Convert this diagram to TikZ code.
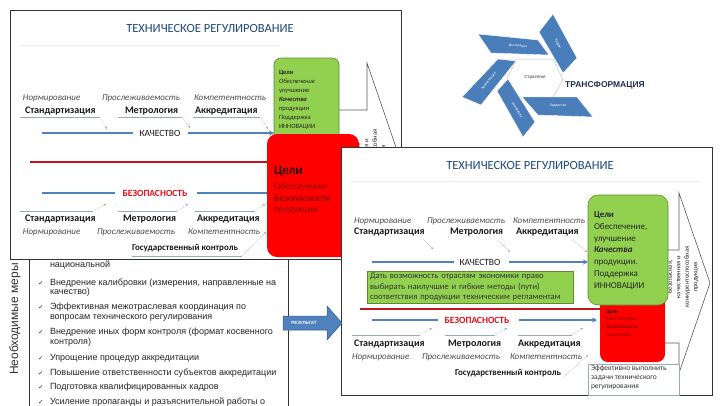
\documentclass[tikz,border=0pt]{standalone}
\usepackage{fontspec}
\setmainfont{Carlito}
\newfontfamily\arialf{Liberation Sans}
\newfontfamily\djvf{DejaVu Sans}
\usetikzlibrary{arrows.meta}
\definecolor{titleblue}{HTML}{1F497D}
\definecolor{lineblue}{HTML}{4F81BD}
\definecolor{linered}{HTML}{C0141E}
\definecolor{boxgreen}{HTML}{92D050}
\definecolor{greenborder}{HTML}{5E8A2E}
\definecolor{boxred}{HTML}{FF0000}
\definecolor{darkredtxt}{HTML}{8B0000}
\definecolor{shapeblue}{HTML}{4A7EBB}
\definecolor{arrowborder}{HTML}{385D8A}
\definecolor{transf}{HTML}{1F3050}
\definecolor{thingray}{HTML}{9AA8BA}
\definecolor{redword}{HTML}{E0101B}
\begin{document}
\begin{tikzpicture}[x=1pt,y=-1pt,every node/.style={inner sep=0pt,outer sep=0pt}]
\tikzset{
 ttl/.style={font=\fontsize{12.5}{14}\selectfont, text=titleblue},
 itx/.style={anchor=west, font=\fontsize{9}{10}\selectfont\itshape, text=black!70},
 btx/.style={anchor=west, font=\fontsize{10}{12}\selectfont\bfseries, text=black!90},
 qtx/.style={font=\fontsize{9.5}{11}\selectfont, text=black!90},
 stx/.style={font=\fontsize{9.5}{11}\selectfont\bfseries, text=redword},
 gtx/.style={anchor=west, font=\fontsize{9}{11}\selectfont\bfseries, text=black!90},
 bline/.style={draw=lineblue, line width=1.8pt},
 barrow/.style={draw=lineblue, line width=1.8pt, -{Stealth[length=5pt,width=5pt]}},
 rline/.style={draw=linered, line width=2.5pt},
 uline/.style={draw=thingray, line width=0.5pt},
 darr/.style={draw=gray!75, densely dotted, line width=0.5pt, -{Stealth[length=2.5pt,width=2pt]}},
 frame/.style={draw=black!80, line width=0.7pt},
 tri/.style={draw=black!65, line width=0.6pt},
 gbox/.style={fill=boxgreen, draw=greenborder, line width=0.6pt},
 listtx/.style={anchor=west, font=\arialf\fontsize{9}{10}\selectfont, text=black!85},
 chk/.style={anchor=west, font=\djvf\fontsize{6.5}{8}\selectfont, text=black!80},
 pshape/.style={fill=shapeblue, draw=white, line width=0.4pt},
 ptx/.style={font=\arialf\fontsize{3.4}{4}\selectfont, text=white},
 rottx/.style={rotate=90, align=center, font=\fontsize{6.5}{8.5}\selectfont, text=black!85}
}
\useasboundingbox (0,0) rectangle (720,405);
\fill[white] (0,0) rectangle (720,405);

% ================= left frame and list =================
\coordinate (LF1) at (10,10); \coordinate (LF2) at (401,259);
\draw[frame] (LF1) rectangle (LF2);
\coordinate (LB1) at (29,259); \coordinate (LB2) at (29,410);
\coordinate (LB3) at (288,259); \coordinate (LB4) at (288,410);
\draw[frame] (LB1) -- (LB2); \draw[frame] (LB3) -- (LB4);

\node[rotate=90, font=\arialf\fontsize{12}{14}\selectfont, text=black!80] (nm) at (15,319) {Необходимые меры};
\node[listtx] (m0) at (50,265) {национальной};
\node[chk] (c1) at (38,283) {✓}; \node[listtx] (m1) at (50,283) {Внедрение калибровки (измерения, направленные на};
\node[listtx] (m1b) at (50,292) {качество)};
\node[chk] (c2) at (38,307) {✓}; \node[listtx] (m2) at (50,307) {Эффективная межотраслевая координация по};
\node[listtx] (m2b) at (50,318) {вопросам технического регулирования};
\node[chk] (c3) at (38,332) {✓}; \node[listtx] (m3) at (50,332) {Внедрение иных форм контроля (формат косвенного};
\node[listtx] (m3b) at (50,342) {контроля)};
\node[chk] (c4) at (38,358) {✓}; \node[listtx] (m4) at (50,358) {Упрощение процедур аккредитации};
\node[chk] (c5) at (38,373) {✓}; \node[listtx] (m5) at (50,373) {Повышение ответственности субъектов аккредитации};
\node[chk] (c6) at (38,387) {✓}; \node[listtx] (m6) at (50,387) {Подготовка квалифицированных кадров};
\node[chk] (c7) at (38,402) {✓}; \node[listtx] (m7) at (50,402) {Усиление пропаганды и разъяснительной работы о};

% ================= left diagram =================
\node[ttl] (Ltitle) at (210,28) {ТЕХНИЧЕСКОЕ РЕГУЛИРОВАНИЕ};
\coordinate (Lh1) at (20,45); \coordinate (Lh2) at (280,45);
\draw[gray!15, line width=0.6pt] (Lh1) -- (Lh2);

\node[itx] (Li1) at (23,98) {Нормирование};
\node[itx] (Li2) at (102,98) {Прослеживаемость};
\node[itx] (Li3) at (194,98) {Компетентность};
\node[btx] (Lb1) at (25,111) {Стандартизация};
\node[btx] (Lb2) at (125,111) {Метрология};
\node[btx] (Lb3) at (195,111) {Аккредитация};

\coordinate (Lu1a) at (20,117); \coordinate (Lu1b) at (100,117); \coordinate (Lu1c) at (107,129);
\coordinate (Lu2a) at (118,117); \coordinate (Lu2b) at (182,117); \coordinate (Lu2c) at (190,128);
\coordinate (Lu3a) at (193,117); \coordinate (Lu3b) at (260,117); \coordinate (Lu3c) at (268,129);
\draw[uline] (Lu1a) -- (Lu1b); \draw[darr] (Lu1b) -- (Lu1c);
\draw[uline] (Lu2a) -- (Lu2b); \draw[darr] (Lu2b) -- (Lu2c);
\draw[uline] (Lu3a) -- (Lu3b); \draw[darr] (Lu3b) -- (Lu3c);

% left green and red boxes
\node[gbox, rounded corners=7pt, minimum width=65, minimum height=95, anchor=north west] (Lg) at (274,58) {};
\node[anchor=north west, align=left, font=\fontsize{6.5}{9}\selectfont, text=black!85] (Lgt) at (279,70.5)
 {\textbf{Цели}\\\textit{Обеспечение}\\улучшение\\\textbf{\textit{Качества}}\\продукции\\Поддержка\\ИННОВАЦИИ};

\node[qtx] (Lq) at (160,133) {КАЧЕСТВО};
\coordinate (Lq0) at (42,133);
\draw[bline] (Lq0) -- ([xshift=-7pt]Lq.west);
\draw[barrow] ([xshift=8pt]Lq.east) -- (Lg.west |- Lq);

\coordinate (LT1) at (367,110); \coordinate (LT2) at (367,63); \coordinate (LT3) at (399,156);
\draw[tri] (Lg.east |- LT1) -- (LT1) -- (LT2) -- (LT3);
\node[rottx] (Lrot) at (371,160) {Безопасная,\\качественная и\\конкурентоспособная\\продукция};

\node[fill=boxred, rounded corners=10pt, minimum width=92, minimum height=123, anchor=north west] (Lred) at (267,134) {};
\node[anchor=west, font=\fontsize{13}{15}\selectfont\bfseries, text=black!80!red] (Lrt1) at (274,171) {Цели};
\node[anchor=west, font=\fontsize{9.5}{11}\selectfont, text=darkredtxt] (Lrt2) at (274,186) {Обеспечение};
\node[anchor=west, font=\fontsize{9.5}{11}\selectfont\bfseries, text=darkredtxt] (Lrt3) at (274,198) {Безопасности};
\node[anchor=west, font=\fontsize{9.5}{11}\selectfont, text=darkredtxt] (Lrt4) at (274,211) {продукции};

\coordinate (Lr0) at (30,162);
\draw[rline] (Lr0) -- (Lred.west |- Lr0);

\node[stx] (Ls) at (155,193) {БЕЗОПАСНОСТЬ};
\coordinate (Ls0) at (42,193);
\draw[bline] (Ls0) -- ([xshift=-8pt]Ls.west);
\draw[bline] ([xshift=10pt]Ls.east) -- (Lred.west |- Ls);

\coordinate (Ld1a) at (20,211); \coordinate (Ld1b) at (93,211); \coordinate (Ld1c) at (106,204);
\coordinate (Ld2a) at (118,211); \coordinate (Ld2b) at (177,211); \coordinate (Ld2c) at (188,204);
\coordinate (Ld3a) at (195,211); \coordinate (Ld3b) at (255,211); \coordinate (Ld3c) at (265,204);
\draw[uline] (Ld1a) -- (Ld1b); \draw[darr] (Ld1b) -- (Ld1c);
\draw[uline] (Ld2a) -- (Ld2b); \draw[darr] (Ld2b) -- (Ld2c);
\draw[uline] (Ld3a) -- (Ld3b); \draw[darr] (Ld3b) -- (Ld3c);

\node[btx] (Lb4) at (25,219) {Стандартизация};
\node[btx] (Lb5) at (123,219) {Метрология};
\node[btx] (Lb6) at (197,219) {Аккредитация};
\node[itx] (Li4) at (23,232) {Нормирование};
\node[itx] (Li5) at (97,232) {Прослеживаемость};
\node[itx] (Li6) at (188,232) {Компетентность};

\node[gtx] (Lgc) at (132,248) {Государственный контроль};
\coordinate (Lgc1) at (132,256); \coordinate (Lgc2) at (242,256); \coordinate (Lgc3) at (266,232);
\draw[uline] (Lgc1) -- (Lgc2); \draw[darr] (Lgc2) -- (Lgc3);

% ================= right diagram =================
\node[draw=black!80, line width=0.7pt, fill=white, minimum width=371, minimum height=248, anchor=north west] (R) at (341,147) {};

\node[ttl] (Rtitle) at (530,165) {ТЕХНИЧЕСКОЕ РЕГУЛИРОВАНИЕ};
\coordinate (Rh1) at (350,181); \coordinate (Rh2) at (700,181);
\draw[gray!15, line width=0.6pt] (Rh1) -- (Rh2);

\node[itx] (Ri1) at (354,221) {Нормирование};
\node[itx] (Ri2) at (427,221) {Прослеживаемость};
\node[itx] (Ri3) at (513,221) {Компетентность};
\node[btx] (Rb1) at (354,232) {Стандартизация};
\node[btx] (Rb2) at (450,232) {Метрология};
\node[btx] (Rb3) at (516,232) {Аккредитация};
\coordinate (Ru1b) at (423,239); \coordinate (Ru1c) at (433,249);
\coordinate (Ru2b) at (498,240); \coordinate (Ru2c) at (510,252);
\coordinate (Ru3b) at (572,240); \coordinate (Ru3c) at (587,252);
\draw[darr] (Ru1b) -- (Ru1c); \draw[darr] (Ru2b) -- (Ru2c); \draw[darr] (Ru3b) -- (Ru3c);

% rotated text and triangle
\node[rottx] (Rrot) at (683,277) {Безопасная,\\качественная и\\конкурентоспособная\\продукция};

\node[fill=boxred, rounded corners=8pt, minimum width=65, minimum height=72, anchor=north west] (Rred) at (600,290) {};
\node[anchor=north west, align=left, font=\fontsize{5.5}{7.7}\selectfont, text=darkredtxt] (Rrt) at (606,309.5)
 {\textcolor{black!80!red}{\textbf{Цели}}\\Обеспечение\\\textbf{Безопасность}\\продукции};

\node[gbox, rounded corners=10pt, minimum width=80, minimum height=110, anchor=north west] (Rg) at (588,195) {};
\node[anchor=north west, align=left, font=\fontsize{9}{11.7}\selectfont, text=black!85] (Rgt) at (594,212)
 {\textbf{Цели}\\Обеспечение,\\улучшение\\\textbf{\textit{Качества}}\\продукции.\\Поддержка\\ИННОВАЦИИ};

\coordinate (RT1) at (679,250); \coordinate (RT2) at (679,193); \coordinate (RT3) at (710,283);
\coordinate (RT4) at (679,373); \coordinate (RT5) at (679,343);
\draw[tri] (Rg.east |- RT1) -- (RT1) -- (RT2) -- (RT3) -- (RT4) -- (RT5) -- (Rred.east |- RT5);

\node[qtx] (Rq) at (480,262) {КАЧЕСТВО};
\coordinate (Rq0) at (372,262);
\draw[bline] (Rq0) -- ([xshift=-6pt]Rq.west);
\draw[barrow] ([xshift=9pt]Rq.east) -- (Rg.west |- Rq);

\node[gbox, anchor=north west, minimum width=206, minimum height=32, text width=200, align=left, inner xsep=3pt, inner ysep=1.5pt,
 font=\fontsize{8.6}{10.5}\selectfont, text=black!80] (Rgtx) at (367,271)
 {Дать возможность отраслям экономики право\\выбирать наилучшие и гибкие методы (пути)\\соответствия продукции техническим регламентам};

\coordinate (Rr0) at (360,309);
\draw[rline] (Rr0) -- (Rred.west |- Rr0);

\node[stx] (Rs) at (477,320) {БЕЗОПАСНОСТЬ};
\coordinate (Rs0) at (372,320);
\draw[bline] (Rs0) -- ([xshift=-7pt]Rs.west);
\draw[barrow] ([xshift=10pt]Rs.east) -- ([xshift=-3pt]Rred.west |- Rs);

\coordinate (Rd1a) at (352,335); \coordinate (Rd1b) at (420,335); \coordinate (Rd1c) at (432,328);
\coordinate (Rd2a) at (445,335); \coordinate (Rd2b) at (495,335); \coordinate (Rd2c) at (507,328);
\coordinate (Rd3a) at (518,335); \coordinate (Rd3b) at (572,335); \coordinate (Rd3c) at (583,328);
\draw[uline] (Rd1a) -- (Rd1b); \draw[darr] (Rd1b) -- (Rd1c);
\draw[uline] (Rd2a) -- (Rd2b); \draw[darr] (Rd2b) -- (Rd2c);
\draw[uline] (Rd3a) -- (Rd3b); \draw[darr] (Rd3b) -- (Rd3c);

\node[btx] (Rb4) at (354,344) {Стандартизация};
\node[btx] (Rb5) at (448,344) {Метрология};
\node[btx] (Rb6) at (518,344) {Аккредитация};
\node[itx] (Ri4) at (352,357) {Нормирование};
\node[itx] (Ri5) at (422,357) {Прослеживаемость};
\node[itx] (Ri6) at (510,357) {Компетентность};

\node[gtx] (Rgc) at (455,373) {Государственный контроль};
\coordinate (Rgc2) at (563,378); \coordinate (Rgc3) at (588,355);
\draw[darr] (Rgc2) -- (Rgc3);

\node[draw=thingray, line width=0.5pt, fill=white, minimum width=91, minimum height=31, anchor=north west] (Reff) at (588,364) {};
\node[anchor=north west, align=left, font=\fontsize{7.5}{9}\selectfont, text=black!80] (Refft) at (591,365.5)
 {Эффективно выполнить\\задачи технического\\регулирования};

% ================= transformation graphic =================
\filldraw[fill=white, draw=gray!45, line width=0.5pt] (507,78) -- (517,59) -- (553,59) -- (563,80) -- (553,97) -- (518,97) -- cycle;
\node[font=\arialf\fontsize{4.5}{5}\selectfont, text=black!80] (tS) at (535,77) {Стратегия};
\filldraw[pshape] (478,34) -- (538,40) -- (549,55) -- (491,53) -- cycle;
\node[ptx, rotate=-4] (tI) at (518,46) {Интеграция};
\filldraw[pshape] (539,32) -- (553,14) -- (577,58) -- (563,73) -- cycle;
\node[ptx, rotate=-60] (tK) at (558,44) {Кадры};
\filldraw[pshape] (498,59) -- (516,61) -- (481,105) -- (462,97) -- cycle;
\node[ptx, rotate=50] (tC) at (489,81) {Компетенции};
\filldraw[pshape] (497,91) -- (508,79) -- (535,122) -- (523,137) -- cycle;
\node[ptx, rotate=-58] (tN) at (517,110) {Инновации};
\filldraw[pshape] (522,97) -- (577,97) -- (593,117) -- (538,115) -- cycle;
\node[ptx] (tL) at (558,106) {Лидерство};
\node[font=\arialf\bfseries\fontsize{8.5}{10}\selectfont, text=transf] (tT) at (605,85) {ТРАНСФОРМАЦИЯ};

% ================= result arrow =================
\filldraw[fill=lineblue, draw=arrowborder, line width=0.5pt] (283,316) -- (327,316) -- (327,306) -- (342,323) -- (327,340) -- (327,330) -- (283,330) -- cycle;
\node[font=\arialf\bfseries\fontsize{4.5}{5}\selectfont, text=white] (res) at (304,323) {РЕЗУЛЬТАТ};
\end{tikzpicture}
\end{document}
